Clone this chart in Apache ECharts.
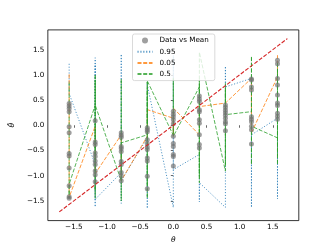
<!DOCTYPE html>
<html><head><meta charset="utf-8">
<script src="https://cdn.jsdelivr.net/npm/echarts@6/dist/echarts.min.js"></script>
<style>html,body{margin:0;padding:0;background:#fff}#c{width:332px;height:249px}</style>
</head><body><div id="c"></div>
<script>
// theta positions (columns)
const thetas = [-1.5708, -1.1781, -0.7854, -0.3927, 0, 0.3927, 0.7854, 1.1781, 1.5708];
// gray dots per column ("Data vs Mean")
const meanData = [
  [0.43, 0.38, 0.33, 0.27, -0.03, -0.15, -0.56, -0.61, -0.85, -1.20, -1.42, -1.45],
  [0.09, -0.33, -0.38, -0.55, -0.62, -0.71, -0.78, -0.91, -0.98, -1.12],
  [-0.15, -0.20, -0.24, -0.42, -0.46, -0.52, -0.72, -0.78, -0.94, -1.00, -1.10],
  [-0.05, -0.09, -0.13, -0.29, -0.36, -0.43, -0.48, -0.65, -0.71, -1.01, -1.26],
  [0.28, 0.22, 0.17, 0.11, 0.03, -0.22, -0.36, -0.42, -0.58, -0.62, -0.81],
  [0.58, 0.52, 0.47, 0.31, 0.27, 0.11, 0.04, -0.19, -0.38, -0.45],
  [0.40, 0.35, 0.30, 0.25, 0.20, 0.14, 0.07, 0.03, -0.11],
  [0.92, 0.90, 0.76, 0.70, 0.17, 0.12, 0.07, -0.02, -0.09, -0.37],
  [1.29, 1.22, 0.93, 0.80, 0.60, 0.44, 0.39, 0.24, 0.18, 0.12]
];
// quantile predictions, in drawing order within each column
const q95 = [
  [1.22, 0.63],
  [-0.78, 1.34, -1.62, 1.20, -1.47],
  [-0.94, 1.41, -1.55, -1.10],
  [-0.25, -1.65, 0.86, 0.80],
  [-1.63, 1.39, -0.88],
  [-0.58, -1.52, -1.14],
  [-1.63, 1.17, 0.76],
  [0.93, -1.63, -0.19],
  [0.14, -1.46, -0.20]
];
const q05 = [
  [1.01, -1.43],
  [-0.02, -0.96],
  [-0.19, -1.10],
  [-0.22, 0.31],
  [0.14, -0.22, 0.34],
  [-0.19, 0.37],
  [0.44, 0.44],
  [0.93, -0.15],
  [0.96, 1.39]
];
const q50 = [
  [0.85, -1.45, -1.17],
  [0.40, 1.01, -1.45, 0.90, -1.30, 0.40],
  [-1.10, 0.92, -1.50, -0.35],
  [-0.19, 0.86, -1.45, 0.70, -1.20, 0.88],
  [-0.20, 0.93, -0.22],
  [0.76, -1.14, 0.90, -1.00, 1.45],
  [-0.91, 0.83, -0.80, 0.70, 0.21],
  [0.27, 1.37, -0.78, -0.02],
  [-0.25, 1.25, -0.78, 1.10, -0.60]
];
const diagonal = [-1.72, 1.72];
const xTicks = [-1.5, -1.0, -0.5, 0.0, 0.5, 1.0, 1.5];
const yTicks = [-1.5, -1.0, -0.5, 0.0, 0.5, 1.0, 1.5];
const axisLim = [-1.892, 1.892];

function flat(arr) {
  const out = [];
  arr.forEach((vals, i) => vals.forEach(v => out.push([thetas[i], v])));
  return out;
}
const fmt = v => (v < 0 ? '\u2212' : '') + Math.abs(v).toFixed(1);
const FONT = 'DejaVu Sans';

const chart = echarts.init(document.getElementById('c'), null, {renderer: 'canvas'});
const lineSeries = (name, data, color, dash) => ({
  name, type: 'line', data: flat(data), symbol: 'none', animation: false, z: 3,
  lineStyle: {color, width: 1, type: dash, opacity: 0.8},
  itemStyle: {color}
});
const noSym = n => ({name: n, itemStyle: {opacity: 0}});
chart.setOption({
  animation: false,
  grid: {left: 41.5, right: 33.2, top: 29.9, bottom: 27.4, show: true, borderColor: '#000', borderWidth: 0.8},
  xAxis: {
    type: 'value', min: axisLim[0], max: axisLim[1],
    name: 'θ', nameLocation: 'middle', nameGap: 15,
    nameTextStyle: {fontFamily: FONT, fontSize: 7.5, fontStyle: 'italic', color: '#000'},
    axisLine: {show: false}, splitLine: {show: false},
    axisTick: {show: true, length: 2.5, lineStyle: {color: '#000', width: 0.6}, customValues: xTicks},
    axisLabel: {fontFamily: FONT, fontSize: 7.2, color: '#000', margin: 3.5, customValues: xTicks, formatter: fmt}
  },
  yAxis: {
    type: 'value', min: axisLim[0], max: axisLim[1],
    name: 'θ̂', nameLocation: 'middle', nameGap: 28, nameRotate: 90,
    nameTextStyle: {fontFamily: FONT, fontSize: 7.5, fontStyle: 'italic', color: '#000'},
    axisLine: {show: false}, splitLine: {show: false},
    axisTick: {show: true, length: 2.5, lineStyle: {color: '#000', width: 0.6}, customValues: yTicks},
    axisLabel: {fontFamily: FONT, fontSize: 7.2, color: '#000', margin: 3.5, customValues: yTicks, formatter: fmt}
  },
  legend: {
    data: ['Data vs Mean', noSym('0.95'), noSym('0.05'), noSym('0.5')],
    orient: 'vertical', left: 132.5, top: 34,
    itemWidth: 15, itemHeight: 6, itemGap: 4.2,
    padding: [3, 6, 3, 4],
    backgroundColor: 'rgba(255,255,255,0.8)', borderColor: '#d0d0d0', borderWidth: 0.8, borderRadius: 2,
    textStyle: {fontFamily: FONT, fontSize: 7.2, color: '#000', padding: [0, 0, 0, 2]}
  },
  series: [
    {
      name: 'Data vs Mean', type: 'scatter', data: flat(meanData), symbolSize: 5, z: 4,
      itemStyle: {color: 'rgba(115,115,115,0.85)'}
    },
    lineSeries('0.95', q95, '#1f77b4', [1.1, 1.8]),
    lineSeries('0.05', q05, '#ff7f0e', [4, 1.7]),
    lineSeries('0.5', q50, '#2ca02c', [4, 1.7]),
    {
      type: 'line', data: [[diagonal[0], diagonal[0]], [diagonal[1], diagonal[1]]], symbol: 'none', z: 5,
      lineStyle: {color: '#d62728', width: 1.1, type: [4, 1.7]}
    }
  ]
});
</script></body></html>
